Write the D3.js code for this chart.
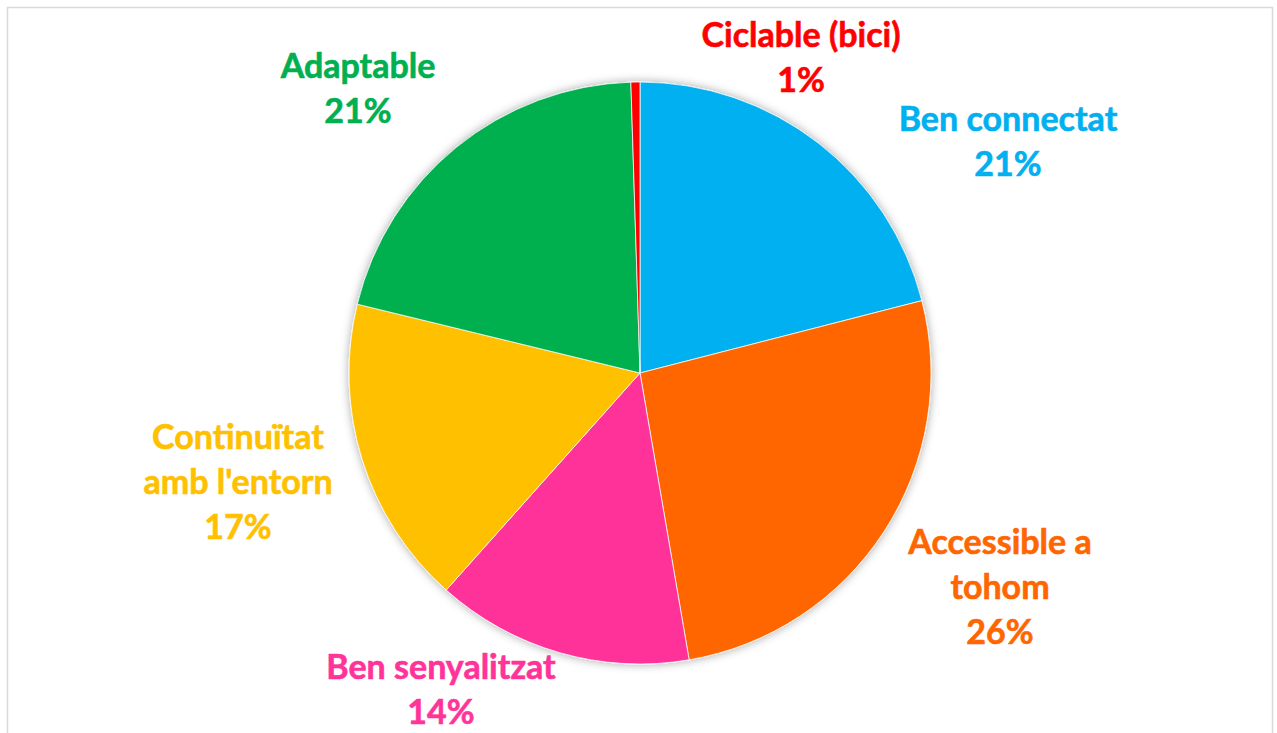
<!DOCTYPE html>
<html>
<head>
<meta charset="utf-8">
<script src="https://cdn.jsdelivr.net/npm/d3@7"></script>
<style>
  body { margin: 0; background: #fff; }
  svg { display: block; }
</style>
</head>
<body>
<div id="chart"></div>
<script>
// categories, values (percent) and colours, clockwise from 12 o'clock
const categories = ["Ben connectat", "Accessible a tohom", "Ben senyalitzat", "Continuïtat amb l'entorn", "Adaptable", "Ciclable (bici)"];
const values = [21.0, 26.3, 14.3, 17.2, 20.7, 0.5];
const colors = ["#00B0F0", "#FF6600", "#FF3399", "#FFC000", "#00B050", "#FF0000"];

// how each label is broken into lines
const labelLines = [
    ["Ben connectat"],
    ["Accessible a", "tohom"],
    ["Ben senyalitzat"],
    ["Continuïtat", "amb l'entorn"],
    ["Adaptable"],
    ["Ciclable (bici)"]
];

const width = 1277, height = 733;
const cx = 640, cy = 373, radius = 291;
const lineH = 45;

// label block centres (x) and first baseline (y), relative to the pie centre
const labelLayout = [
    [368, -242],
    [360, 181],
    [-199, 306],
    [-402, 76],
    [-282, -295],
    [161, -326]
];

const svg = d3.select("#chart")
    .append("svg")
    .attr("width", width)
    .attr("height", height);

const defs = svg.append("defs");
const shadow = defs.append("filter")
    .attr("id", "glow")
    .attr("x", "-10%").attr("y", "-10%")
    .attr("width", "120%").attr("height", "120%");
shadow.append("feDropShadow")
    .attr("dx", 0).attr("dy", 0)
    .attr("stdDeviation", 5)
    .attr("flood-color", "#000")
    .attr("flood-opacity", 0.35);

// chart frame
svg.append("rect")
    .attr("x", 7.5).attr("y", 7.5)
    .attr("width", 1265).attr("height", 740)
    .attr("fill", "#fff")
    .attr("stroke", "#d9d9d9")
    .attr("stroke-width", 1.5);

const pie = d3.pie().sort(null).value(d => d)(values);
const arc = d3.arc().innerRadius(0).outerRadius(radius);

const pieGroup = svg.append("g")
    .attr("transform", `translate(${cx}, ${cy})`);

pieGroup.append("g")
    .attr("filter", "url(#glow)")
    .selectAll("path")
    .data(pie)
    .join("path")
    .attr("d", arc)
    .attr("fill", (d, i) => colors[i])
    .attr("stroke", "#fff")
    .attr("stroke-width", 0.75);

const labels = pieGroup.append("g")
    .selectAll("text")
    .data(pie)
    .join("text")
    .attr("text-anchor", "middle")
    .attr("font-family", "Lato, 'Open Sans', sans-serif")
    .attr("font-weight", "bold")
    .attr("font-size", 34)
    .attr("fill", (d, i) => colors[i])
    .attr("stroke", (d, i) => colors[i])
    .attr("stroke-width", 0.6)
    .attr("transform", (d, i) => `translate(${labelLayout[i][0]}, ${labelLayout[i][1]})`);

labels.each(function(d, i) {
    const t = d3.select(this);
    const lines = labelLines[i].concat([Math.round(values[i]) + "%"]);
    lines.forEach((s, k) => {
        t.append("tspan")
            .attr("x", 0)
            .attr("y", k * lineH)
            .text(s);
    });
});
</script>
</body>
</html>
